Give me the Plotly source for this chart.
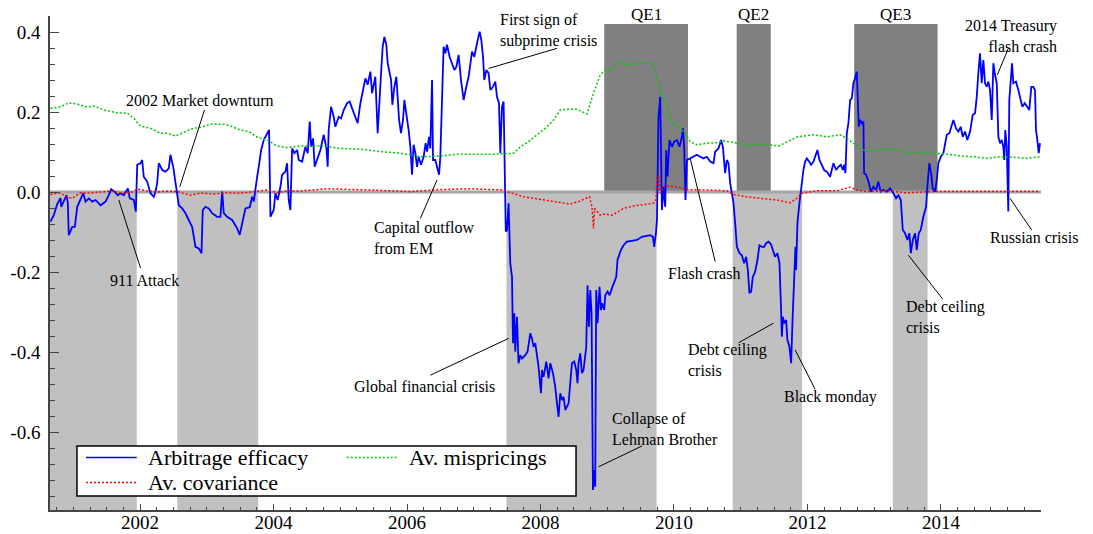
import plotly.graph_objects as go

FONT = "Liberation Serif, Times New Roman, serif"

# ---------------- data (decimal year, value) ----------------
blue_2000_2004 = [
    (2000.658,-0.074),(2000.708,-0.057),(2000.758,-0.030),(2000.808,-0.015),(2000.818,-0.037),(2000.857,-0.024),
    (2000.898,-0.008),(2000.917,-0.028),(2000.932,-0.108),(2000.983,-0.087),(2001.022,-0.087),(2001.058,-0.037),
    (2001.107,-0.020),(2001.148,-0.003),(2001.182,-0.024),(2001.232,-0.016),(2001.283,-0.024),(2001.332,-0.020),
    (2001.407,-0.033),(2001.482,-0.024),(2001.531,-0.008),(2001.567,0.007),(2001.617,0.001),(2001.666,-0.008),
    (2001.706,-0.003),(2001.756,-0.008),(2001.816,0.009),(2001.846,-0.016),(2001.906,-0.020),(2001.936,-0.049),
    (2001.957,0.068),(2002.006,0.072),(2002.031,0.080),(2002.055,0.038),(2002.106,0.026),(2002.156,-0.003),
    (2002.205,-0.012),(2002.231,0.001),(2002.256,0.022),(2002.280,0.072),(2002.331,0.055),(2002.380,0.051),
    (2002.430,0.059),(2002.455,0.093),(2002.496,0.063),(2002.530,0.026),(2002.556,0.005),(2002.580,-0.033),
    (2002.631,-0.041),(2002.680,-0.053),(2002.729,-0.070),(2002.780,-0.087),(2002.830,-0.137),(2002.879,-0.141),
    (2002.920,-0.153),(2002.939,-0.045),(2002.979,-0.037),(2003.029,-0.041),(2003.080,-0.053),(2003.155,-0.062),
    (2003.204,-0.062),(2003.230,0.001),(2003.254,-0.053),(2003.304,-0.062),(2003.379,-0.070),(2003.454,-0.091),
    (2003.493,-0.107),(2003.529,-0.082),(2003.579,-0.041),(2003.643,-0.038),(2003.679,-0.012),(2003.703,-0.024),
    (2003.728,0.013),(2003.754,0.038),(2003.778,0.063),(2003.814,0.105),(2003.853,0.130),(2003.893,0.143),
    (2003.933,0.155),(2003.953,-0.062),(2004.002,-0.045),(2004.028,-0.003),(2004.062,-0.020),(2004.103,0.013),
    (2004.128,0.043),(2004.178,0.051),(2004.203,0.072),(2004.227,-0.020),(2004.252,-0.045),
]
blue_2004_2007 = [
    (2004.278,0.109),(2004.312,0.097),(2004.353,0.105),(2004.377,0.080),(2004.428,0.076),(2004.477,0.113),
    (2004.512,0.097),(2004.542,0.176),(2004.563,0.113),(2004.593,0.134),(2004.616,0.063),(2004.652,0.080),
    (2004.702,0.105),(2004.751,0.143),(2004.792,0.109),(2004.811,0.063),(2004.826,0.155),(2004.862,0.213),
    (2004.901,0.188),(2004.926,0.163),(2004.976,0.188),(2005.012,0.184),(2005.051,0.205),(2005.102,0.222),
    (2005.141,0.226),(2005.177,0.209),(2005.226,0.188),(2005.260,0.172),(2005.301,0.222),(2005.341,0.251),
    (2005.376,0.284),(2005.410,0.268),(2005.451,0.301),(2005.476,0.247),(2005.525,0.288),(2005.560,0.147),
    (2005.581,0.222),(2005.611,0.297),(2005.635,0.363),(2005.660,0.388),(2005.690,0.368),(2005.710,0.322),
    (2005.731,0.305),(2005.761,0.280),(2005.780,0.218),(2005.810,0.263),(2005.840,0.288),(2005.860,0.230),
    (2005.881,0.180),(2005.910,0.147),(2005.940,0.180),(2005.960,0.230),(2005.990,0.197),(2006.024,0.155),
    (2006.050,0.113),(2006.075,0.043),(2006.099,0.118),(2006.125,0.097),(2006.150,0.063),(2006.174,0.088),
    (2006.210,0.068),(2006.249,0.088),(2006.279,0.122),(2006.300,0.101),(2006.330,0.138),(2006.349,0.109),
    (2006.375,0.280),(2006.390,0.080),(2006.424,0.080),(2006.450,0.063),(2006.480,0.043),(2006.499,0.088),
    (2006.524,0.263),(2006.548,0.363),(2006.574,0.347),(2006.599,0.368),(2006.638,0.338),(2006.674,0.322),
    (2006.709,0.305),(2006.739,0.313),(2006.773,0.343),(2006.809,0.280),(2006.848,0.230),(2006.888,0.263),
    (2006.923,0.288),(2006.974,0.351),(2007.008,0.338),(2007.049,0.372),(2007.088,0.401),(2007.113,0.380),
    (2007.139,0.338),(2007.158,0.280),(2007.188,0.305),(2007.222,0.297),(2007.248,0.255),(2007.288,0.263),
    (2007.323,0.276),(2007.348,0.238),(2007.378,0.222),(2007.398,0.097),(2007.423,0.213),(2007.447,0.226),
    (2007.473,-0.020),
]
blue_2007_2010 = [
    (2007.480,-0.099),(2007.498,-0.095),(2007.522,-0.028),(2007.547,-0.178),(2007.573,-0.212),(2007.588,-0.378),
    (2007.607,-0.303),(2007.622,-0.399),(2007.647,-0.312),(2007.671,-0.428),(2007.697,-0.408),(2007.723,-0.416),
    (2007.772,-0.408),(2007.806,-0.399),(2007.847,-0.353),(2007.872,-0.366),(2007.896,-0.387),(2007.922,-0.378),
    (2007.947,-0.412),(2007.971,-0.437),(2008.007,-0.503),(2008.022,-0.445),(2008.046,-0.462),(2008.087,-0.424),
    (2008.121,-0.466),(2008.147,-0.428),(2008.187,-0.453),(2008.221,-0.487),(2008.247,-0.528),(2008.271,-0.562),
    (2008.296,-0.503),(2008.322,-0.520),(2008.346,-0.512),(2008.371,-0.545),(2008.421,-0.528),(2008.446,-0.487),
    (2008.471,-0.428),(2008.506,-0.424),(2008.536,-0.445),(2008.555,-0.478),(2008.570,-0.428),(2008.596,-0.403),
    (2008.621,-0.453),(2008.645,-0.445),(2008.686,-0.387),(2008.705,-0.233),(2008.726,-0.337),(2008.746,-0.245),
    (2008.765,-0.303),(2008.786,-0.745),(2008.806,-0.695),(2008.820,-0.737),(2008.835,-0.245),(2008.855,-0.328),
    (2008.885,-0.237),(2008.906,-0.295),(2008.925,-0.278),(2008.955,-0.295),(2008.970,-0.258),(2009.005,-0.249),
    (2009.035,-0.258),(2009.070,-0.241),(2009.105,-0.224),(2009.135,-0.212),(2009.154,-0.170),(2009.175,-0.158),
    (2009.205,-0.145),(2009.244,-0.133),(2009.295,-0.124),(2009.370,-0.122),(2009.445,-0.120),(2009.520,-0.112),
    (2009.569,-0.110),(2009.644,-0.108),(2009.685,-0.112),(2009.704,-0.137),(2009.730,-0.103),(2009.745,-0.070),
    (2009.753,0.013),(2009.768,0.188),(2009.794,0.238),(2009.809,0.105),(2009.819,-0.045),(2009.843,0.013),
    (2009.869,-0.037),(2009.884,0.105),(2009.903,0.038),(2009.933,0.130),(2009.969,0.113),
]
blue_2010_2012 = [
    (2010.003,0.126),(2010.044,0.130),(2010.083,0.113),(2010.119,0.138),(2010.134,0.159),(2010.153,0.113),
    (2010.173,-0.020),(2010.194,0.080),(2010.243,0.084),(2010.293,0.088),(2010.343,0.093),(2010.393,0.088),
    (2010.442,0.084),(2010.493,0.088),(2010.543,0.076),(2010.592,0.072),(2010.618,0.101),(2010.667,0.109),
    (2010.707,0.130),(2010.733,0.113),(2010.767,0.047),(2010.793,0.080),(2010.817,0.072),(2010.842,0.022),
    (2010.868,-0.003),(2010.892,-0.028),(2010.917,-0.078),(2010.943,-0.137),(2010.982,-0.153),(2011.017,-0.158),
    (2011.052,-0.178),(2011.082,-0.162),(2011.107,-0.195),(2011.131,-0.253),(2011.157,-0.249),(2011.182,-0.212),
    (2011.217,-0.199),(2011.251,-0.170),(2011.281,-0.133),(2011.317,-0.137),(2011.352,-0.137),(2011.381,-0.128),
    (2011.416,-0.124),(2011.452,-0.130),(2011.482,-0.145),(2011.516,-0.162),(2011.551,-0.153),(2011.581,-0.178),
    (2011.602,-0.278),(2011.617,-0.362),(2011.632,-0.312),(2011.651,-0.328),(2011.681,-0.320),(2011.700,-0.370),
    (2011.730,-0.387),(2011.756,-0.428),(2011.775,-0.328),(2011.800,-0.212),(2011.820,-0.137),(2011.830,-0.195),
    (2011.850,-0.078),(2011.880,-0.028),(2011.901,0.005),(2011.921,0.030),(2011.940,0.055),(2011.966,0.076),
    (2011.991,0.084),(2012.025,0.076),(2012.055,0.068),(2012.090,0.076),(2012.130,0.097),(2012.150,0.105),
    (2012.180,0.080),(2012.216,0.068),(2012.250,0.055),(2012.291,0.051),(2012.340,0.038),(2012.389,0.072),
    (2012.430,0.055),(2012.464,0.063),(2012.500,0.068),(2012.530,0.055),(2012.550,0.068),(2012.569,0.047),
]
blue_2012_2015 = [
    (2012.590,0.147),(2012.614,0.172),(2012.640,0.230),(2012.665,0.234),(2012.689,0.272),(2012.714,0.284),
    (2012.740,0.301),(2012.755,0.230),(2012.770,0.163),(2012.790,0.180),(2012.815,0.172),(2012.839,0.176),
    (2012.849,0.047),(2012.879,0.043),(2012.914,0.026),(2012.950,0.001),(2012.988,0.013),(2013.029,0.005),
    (2013.063,0.026),(2013.099,0.001),(2013.138,0.005),(2013.189,0.001),(2013.238,0.009),(2013.288,-0.003),
    (2013.328,-0.016),(2013.363,-0.008),(2013.399,-0.020),(2013.429,-0.095),(2013.463,-0.103),(2013.498,-0.120),
    (2013.528,-0.103),(2013.549,-0.153),(2013.579,-0.120),(2013.613,-0.103),(2013.638,-0.145),(2013.668,-0.103),
    (2013.698,-0.095),(2013.737,-0.062),(2013.778,-0.037),(2013.797,0.013),(2013.827,0.072),(2013.853,0.047),
    (2013.878,0.009),(2013.913,0.001),(2013.938,0.030),(2013.962,0.072),(2013.998,0.088),(2014.037,0.097),
    (2014.062,0.122),(2014.088,0.143),(2014.127,0.147),(2014.163,0.168),(2014.187,0.180),(2014.227,0.159),
    (2014.261,0.151),(2014.297,0.163),(2014.327,0.138),(2014.362,0.151),(2014.396,0.130),(2014.437,0.151),
    (2014.477,0.193),(2014.512,0.197),(2014.537,0.238),(2014.561,0.297),(2014.586,0.347),(2014.612,0.272),
    (2014.636,0.330),(2014.661,0.272),(2014.687,0.263),(2014.711,0.276),(2014.736,0.255),(2014.762,0.180),
    (2014.786,0.322),(2014.811,0.293),(2014.837,0.272),(2014.861,0.138),(2014.886,0.122),(2014.912,0.130),
    (2014.935,0.113),(2014.950,0.080),(2014.965,0.155),(2014.987,0.113),(2015.010,-0.049),(2015.025,0.230),
    (2015.046,0.276),(2015.066,0.322),(2015.085,0.272),(2015.125,0.276),(2015.160,0.255),(2015.185,0.238),
    (2015.220,0.213),(2015.256,0.222),(2015.286,0.213),(2015.325,0.205),(2015.355,0.263),(2015.385,0.263),
    (2015.410,0.255),(2015.425,0.155),(2015.445,0.130),(2015.466,0.097),(2015.485,0.122),
]

mispricings = [
    (2000.658,0.209),(2000.808,0.213),(2000.932,0.223),(2001.058,0.220),(2001.208,0.212),(2001.307,0.215),
    (2001.456,0.205),(2001.657,0.198),(2001.807,0.197),(2001.906,0.184),(2002.006,0.165),(2002.156,0.159),
    (2002.306,0.147),(2002.406,0.147),(2002.530,0.140),(2002.631,0.147),(2002.755,0.157),(2002.905,0.162),
    (2003.080,0.170),(2003.254,0.169),(2003.354,0.165),(2003.504,0.155),(2003.628,0.151),(2003.754,0.137),
    (2003.904,0.130),(2004.053,0.115),(2004.203,0.111),(2004.402,0.115),(2004.751,0.115),(2005.001,0.109),
    (2005.301,0.107),(2005.600,0.101),(2005.900,0.097),(2006.199,0.088),(2006.499,0.090),(2006.799,0.095),
    (2007.098,0.094),(2007.398,0.095),(2007.597,0.097),(2007.697,0.113),(2007.797,0.123),(2007.947,0.143),
    (2008.097,0.163),(2008.196,0.180),(2008.296,0.205),(2008.396,0.207),(2008.546,0.207),(2008.696,0.195),
    (2008.794,0.247),(2008.895,0.293),(2008.970,0.305),(2009.095,0.309),(2009.185,0.326),(2009.295,0.318),
    (2009.494,0.322),(2009.670,0.322),(2009.745,0.288),(2009.819,0.238),(2009.894,0.213),(2009.969,0.172),
    (2010.068,0.163),(2010.168,0.147),(2010.243,0.126),(2010.343,0.118),(2010.493,0.122),(2010.642,0.123),
    (2010.742,0.128),(2010.943,0.122),(2011.126,0.115),(2011.301,0.120),(2011.575,0.115),(2011.701,0.126),
    (2011.851,0.138),(2012.090,0.143),(2012.291,0.138),(2012.490,0.143),(2012.590,0.134),(2012.689,0.122),
    (2012.839,0.105),(2012.939,0.101),(2013.089,0.105),(2013.238,0.109),(2013.388,0.103),(2013.538,0.097),
    (2013.687,0.098),(2013.887,0.097),(2014.088,0.095),(2014.287,0.090),(2014.486,0.088),(2014.687,0.084),
    (2014.886,0.088),(2015.085,0.087),(2015.286,0.084),(2015.485,0.088),
]

covariance = [
    (2000.658,-0.006),(2000.782,-0.002),(2000.908,-0.012),(2000.983,-0.016),(2001.107,-0.002),(2001.257,-0.003),
    (2001.557,0.003),(2001.706,-0.002),(2001.856,-0.002),(2001.957,0.007),(2002.106,0.003),(2002.256,0.000),
    (2002.406,0.002),(2002.556,0.001),(2002.755,-0.008),(2002.905,-0.003),(2003.104,-0.005),(2003.304,-0.002),
    (2003.504,-0.003),(2003.703,0.001),(2003.904,0.005),(2004.053,-0.002),(2004.203,0.003),(2004.353,0.002),
    (2004.802,0.008),(2005.451,0.005),(2006.050,0.001),(2006.499,0.006),(2006.948,0.008),(2007.447,0.005),
    (2007.498,0.001),(2007.747,-0.012),(2007.997,-0.018),(2008.247,-0.024),(2008.446,-0.030),(2008.570,-0.024),
    (2008.696,-0.016),(2008.735,-0.012),(2008.771,-0.037),(2008.795,-0.091),(2008.810,-0.041),(2008.846,-0.049),
    (2008.895,-0.058),(2008.970,-0.055),(2009.070,-0.058),(2009.169,-0.049),(2009.244,-0.041),(2009.394,-0.035),
    (2009.544,-0.031),(2009.693,-0.028),(2009.730,-0.020),(2009.745,0.022),(2009.768,0.043),(2009.794,-0.003),
    (2009.834,0.013),(2009.894,0.015),(2010.044,0.013),(2010.194,0.006),(2010.493,0.005),(2010.793,0.003),
    (2010.892,-0.006),(2011.092,-0.012),(2011.301,-0.016),(2011.542,-0.020),(2011.741,-0.027),(2011.841,-0.016),
    (2011.916,-0.003),(2012.141,0.003),(2012.440,0.003),(2012.640,0.012),(2012.740,0.005),(2012.889,0.001),
    (2013.189,0.003),(2013.488,-0.002),(2013.847,0.001),(2014.187,0.001),(2014.687,0.002),(2015.185,0.002),
    (2015.485,0.001),
]

# shaded periods
crisis_periods = [(2000.65, 2001.95), (2002.557, 2003.77), (2007.49, 2009.74), (2010.88, 2011.92), (2013.28, 2013.80)]
qe_names = ["QE1", "QE2", "QE3"]
qe_periods = [(2008.955, 2010.21), (2010.94, 2011.45), (2012.70, 2013.95)]

# axes
X_MIN, X_MAX = 2000.65, 2015.5
Y_MIN, Y_MAX = -0.795, 0.44
QE_TOP = 0.42
y_tick_vals = [-0.6, -0.4, -0.2, 0.0, 0.2, 0.4]
y_tick_text = ["-0.6", "-0.4", "-0.2", "0.0", "0.2", "0.4"]

# event labels: text, x, y, anchor, leader line (x0, y0, x1, y1)
events = [
    ("2002 Market downturn", 2002.897, 0.230, "center", (2002.965, 0.205, 2002.595, 0.013)),
    ("911 Attack", 2002.063, -0.222, "center", (2001.681, -0.020, 2002.006, -0.190)),
    ("Capital outflow<br>from EM", 2005.476, -0.115, "left", (2006.450, 0.030, 2006.200, -0.066)),
    ("First sign of<br>subprime crisis", 2007.368, 0.404, "left", (2007.222, 0.309, 2008.247, 0.359)),
    ("Global financial crisis", 2006.255, -0.485, "center", (2006.349, -0.458, 2007.522, -0.366)),
    ("Collapse of<br>Lehman Brother", 2009.045, -0.5935, "left", (2009.520, -0.635, 2008.870, -0.687)),
    ("Flash crash", 2010.453, -0.203, "center", (2010.243, 0.084, 2010.618, -0.174)),
    ("Debt ceiling<br>crisis", 2010.183, -0.4195, "left", (2010.967, -0.377, 2011.491, -0.328)),
    ("Black monday", 2012.347, -0.512, "center", (2011.816, -0.395, 2012.115, -0.493)),
    ("Debt ceiling<br>crisis", 2013.453, -0.3115, "left", (2013.513, -0.158, 2014.028, -0.268)),
    ("Russian crisis", 2015.40, -0.113, "center", (2015.036, -0.016, 2015.360, -0.095)),
]
# label whose text sits right of the plotted range (paper x, value y)
treasury_label = ("2014 Treasury<br>flash crash", 1.0182, 0.391, (2014.846, 0.293, 2015.010, 0.359))

ANN_SIZE = 16

# ---------------- figure ----------------
fig = go.Figure()

for x0, x1 in crisis_periods:
    fig.add_shape(type="rect", xref="x", yref="y", x0=x0, x1=x1, y0=Y_MIN, y1=0,
                  fillcolor="#c0c0c0", line_width=0, layer="below")
for name, (x0, x1) in zip(qe_names, qe_periods):
    fig.add_shape(type="rect", xref="x", yref="y", x0=x0, x1=x1, y0=0, y1=QE_TOP,
                  fillcolor="#808080", line_width=0, layer="below")
    fig.add_annotation(x=(x0 + x1) / 2, y=1.004, xref="x", yref="paper", text=name, showarrow=False,
                       font=dict(family=FONT, size=17, color="black"), xanchor="center", yanchor="middle")
fig.add_shape(type="line", xref="x", yref="y", x0=X_MIN, x1=X_MAX, y0=0, y1=0,
              line=dict(color="#a6a6a6", width=3), layer="below")

blue = blue_2000_2004 + blue_2004_2007 + blue_2007_2010 + blue_2010_2012 + blue_2012_2015
fig.add_trace(go.Scatter(x=[p[0] for p in blue], y=[p[1] for p in blue], mode="lines",
                         name="Arbitrage efficacy", line=dict(color="#0000ff", width=1.8)))
fig.add_trace(go.Scatter(x=[p[0] for p in mispricings], y=[p[1] for p in mispricings], mode="lines",
                         name="Av. mispricings", line=dict(color="#00c800", width=1.5, dash="2px,2px")))
fig.add_trace(go.Scatter(x=[p[0] for p in covariance], y=[p[1] for p in covariance], mode="lines",
                         name="Av. covariance", line=dict(color="#ff0000", width=1.5, dash="2px,2px")))

for text, tx, ty, anchor, (lx0, ly0, lx1, ly1) in events:
    fig.add_shape(type="line", xref="x", yref="y", x0=lx0, y0=ly0, x1=lx1, y1=ly1,
                  line=dict(color="black", width=1))
    fig.add_annotation(x=tx, y=ty, xref="x", yref="y", text=text, showarrow=False,
                       font=dict(family=FONT, size=ANN_SIZE, color="black"),
                       xanchor=anchor, yanchor="middle", align=anchor)

t_text, t_px, t_y, (lx0, ly0, lx1, ly1) = treasury_label
fig.add_shape(type="line", xref="x", yref="y", x0=lx0, y0=ly0, x1=lx1, y1=ly1,
              line=dict(color="black", width=1))
fig.add_annotation(x=t_px, y=t_y, xref="paper", yref="y", text=t_text, showarrow=False,
                   font=dict(family=FONT, size=ANN_SIZE, color="black"),
                   xanchor="right", yanchor="middle", align="right")

# manual legend (2 columns)
fig.add_shape(type="rect", xref="paper", yref="paper", x0=0.0272, x1=0.5308, y0=0.0283, y1=0.1296,
              fillcolor="white", line=dict(color="black", width=1.5))
legend_items = [
    ("Arbitrage efficacy", "#0000ff", "solid", 0.0363, 0.1063),
    ("Av. covariance", "#ff0000", "2px,2px", 0.0363, 0.0557),
    ("Av. mispricings", "#00c800", "2px,2px", 0.2994, 0.1063),
]
for label, color, dash, lx, ly in legend_items:
    fig.add_shape(type="line", xref="paper", yref="paper", x0=lx, x1=lx + 0.0512, y0=ly, y1=ly,
                  line=dict(color=color, width=1.5, dash=dash))
    fig.add_annotation(x=lx + 0.0606, y=ly, xref="paper", yref="paper", text=label, showarrow=False,
                       font=dict(family=FONT, size=22, color="black"), xanchor="left", yanchor="middle")

fig.update_layout(
    width=1093, height=534, autosize=False,
    margin=dict(l=50, r=52, t=16, b=24),
    paper_bgcolor="white", plot_bgcolor="white",
    showlegend=False,
    font=dict(family=FONT, size=19, color="black"),
    xaxis=dict(range=[X_MIN, X_MAX], showgrid=False, zeroline=False, showline=True, automargin=False,
               linecolor="#444444", linewidth=1.5, ticks="inside", ticklen=6, tickwidth=1,
               tickcolor="#444444", tick0=2000, dtick=2, tickfont=dict(family=FONT, size=19),
               ticklabelstandoff=-6,
               minor=dict(dtick=0.25, tick0=2000, ticks="inside", ticklen=3, tickcolor="#444444", showgrid=False)),
    yaxis=dict(range=[Y_MIN, Y_MAX], showgrid=False, zeroline=False, showline=True, automargin=False,
               linecolor="#444444", linewidth=1.5, ticks="inside", ticklen=9, tickwidth=1,
               tickcolor="#444444", tickmode="array", tickvals=y_tick_vals, ticktext=y_tick_text,
               tickfont=dict(family=FONT, size=19), ticklabelstandoff=4,
               minor=dict(dtick=0.04, tick0=0, ticks="inside", ticklen=5, tickcolor="#444444", showgrid=False)),
)

# remove the default 8px page margin so the figure fills the 1093x534 window exactly
fig.write_html("out.html", config={"displayModeBar": False},
               post_script="document.body.style.margin='0px';")
